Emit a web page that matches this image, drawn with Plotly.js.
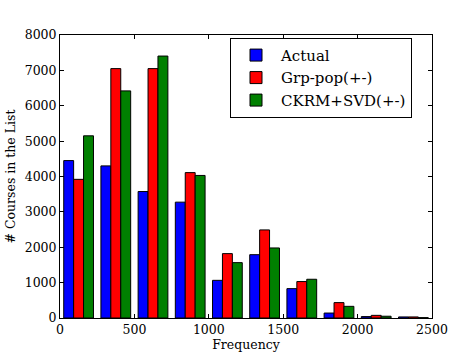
<!DOCTYPE html>
<html>
<head>
<meta charset="utf-8">
<script src="https://cdn.plot.ly/plotly-3.0.1.min.js"></script>
<style>
  html, body { margin: 0; padding: 0; background: #fff; }
  #chart { width: 474px; height: 354px; }
</style>
</head>
<body>
<div id="chart"></div>
<script>
// bin centres (bin width 250)
var binCentres = [125, 375, 625, 875, 1125, 1375, 1625, 1875, 2125, 2375];

var actual   = [4450, 4300, 3575, 3275, 1065, 1790, 830, 140, 40, 30];
var grpPop   = [3920, 7050, 7050, 4110, 1820, 2490, 1030, 435, 75, 30];
var ckrmSvd  = [5150, 6420, 7405, 4030, 1565, 1980, 1095, 330, 50, 10];

var names  = ['Actual', 'Grp-pop(+-)', 'CKRM+SVD(+-)'];
var colors = ['#0000ff', '#ff0000', '#008000'];
var series = [actual, grpPop, ckrmSvd];

var data = series.map(function (ys, i) {
    return {
        x: binCentres,
        y: ys,
        type: 'bar',
        name: names[i],
        marker: { color: colors[i], line: { color: '#000', width: 1 } },
        hoverinfo: 'x+y'
    };
});

var serif = 'DejaVu Serif, serif';

var layout = {
    width: 474,
    height: 354,
    margin: { l: 60, r: 42, t: 35, b: 36 },
    paper_bgcolor: '#fff',
    plot_bgcolor: '#fff',
    font: { family: serif, size: 12.5, color: '#000' },
    barmode: 'group',
    bargap: 0.2,
    bargroupgap: 0,
    showlegend: true,
    legend: {
        x: 0.457, y: 0.99, xanchor: 'left', yanchor: 'top',
        bgcolor: '#fff', bordercolor: '#000', borderwidth: 1,
        font: { family: serif, size: 15, color: '#000' },
        itemwidth: 40,
        tracegroupgap: 0
    },
    xaxis: {
        range: [0, 2500],
        tickvals: [0, 500, 1000, 1500, 2000, 2500],
        ticks: 'inside', ticklen: 4, tickcolor: '#000',
        showline: true, linecolor: '#000', linewidth: 1, mirror: 'ticks',
        showgrid: false, zeroline: false,
        title: { text: 'Frequency', font: { family: serif, size: 12.5 }, standoff: 3 }
    },
    yaxis: {
        range: [0, 8000],
        tickvals: [0, 1000, 2000, 3000, 4000, 5000, 6000, 7000, 8000],
        ticks: 'inside', ticklen: 4, tickcolor: '#000',
        showline: true, linecolor: '#000', linewidth: 1, mirror: 'ticks',
        showgrid: false, zeroline: false,
        title: { text: '# Courses in the List', font: { family: serif, size: 12.5 }, standoff: 6 }
    }
};

Plotly.newPlot('chart', data, layout, { displayModeBar: false, staticPlot: true });
</script>
</body>
</html>
